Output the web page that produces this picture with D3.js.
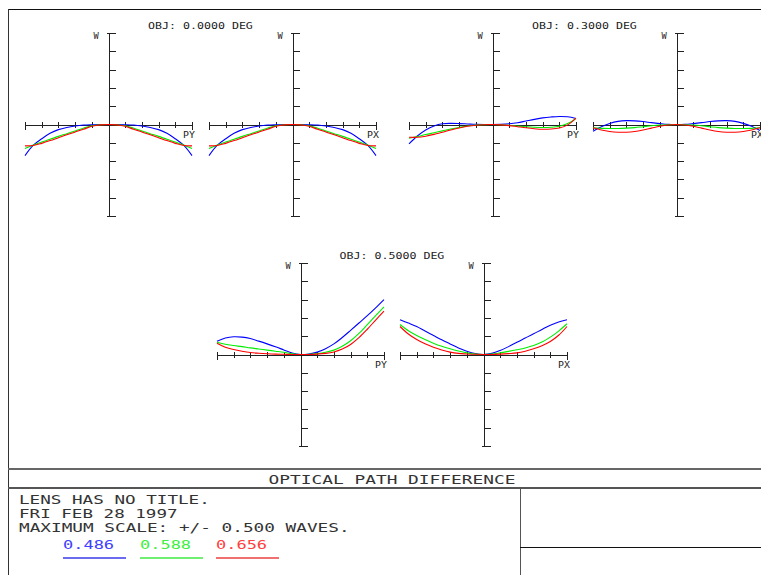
<!DOCTYPE html>
<html>
<head>
  <title>Optical path difference</title>
  <style>
    body { margin: 0; background: #fff; }
    text { font-family: "DejaVu Sans Mono", monospace; }
  </style>
</head>
<body>
  <svg width="761" height="575"></svg>

  <script src="https://d3js.org/d3.v7.min.js"></script>
  <script>

  // pupil coordinate where each OPD sample was read
  var pupil = [-1, -0.9, -0.8, -0.7, -0.6, -0.5, -0.4, -0.3, -0.2, -0.1, 0,
               0.1, 0.2, 0.3, 0.4, 0.5, 0.6, 0.7, 0.8, 0.9, 1];

  var wavelengths = ["0.486", "0.588", "0.656"];
  var fieldLabels = ["OBJ: 0.0000 DEG", "OBJ: 0.3000 DEG", "OBJ: 0.5000 DEG"];
  var pupilTicks = [-1, -0.8, -0.6, -0.4, -0.2, 0, 0.2, 0.4, 0.6, 0.8, 1];
  var waveTicks = [-0.5, -0.4, -0.3, -0.2, -0.1, 0, 0.1, 0.2, 0.3, 0.4, 0.5];

  // OPD in waves, field 0.0 deg
  var f0_py_486 = [-0.170, -0.113, -0.078, -0.048, -0.028, -0.016, -0.008, -0.003, -0.001, 0, 0, 0, -0.001, -0.003, -0.008, -0.016, -0.028, -0.048, -0.078, -0.113, -0.170];
  var f0_py_588 = [-0.131, -0.112, -0.096, -0.081, -0.065, -0.050, -0.035, -0.020, -0.007, -0.001, 0, -0.001, -0.007, -0.020, -0.035, -0.050, -0.065, -0.081, -0.096, -0.112, -0.131];
  var f0_py_656 = [-0.117, -0.115, -0.103, -0.088, -0.072, -0.056, -0.041, -0.026, -0.010, -0.002, 0, -0.002, -0.010, -0.026, -0.041, -0.056, -0.072, -0.088, -0.103, -0.115, -0.117];
  var f0_px_486 = [-0.170, -0.113, -0.078, -0.048, -0.028, -0.016, -0.008, -0.003, -0.001, 0, 0, 0, -0.001, -0.003, -0.008, -0.016, -0.028, -0.048, -0.078, -0.113, -0.170];
  var f0_px_588 = [-0.131, -0.112, -0.096, -0.081, -0.065, -0.050, -0.035, -0.020, -0.007, -0.001, 0, -0.001, -0.007, -0.020, -0.035, -0.050, -0.065, -0.081, -0.096, -0.112, -0.131];
  var f0_px_656 = [-0.117, -0.115, -0.103, -0.088, -0.072, -0.056, -0.041, -0.026, -0.010, -0.002, 0, -0.002, -0.010, -0.026, -0.041, -0.056, -0.072, -0.088, -0.103, -0.115, -0.117];

  // field 0.3 deg
  var f3_py_486 = [-0.106, -0.063, -0.030, -0.008, 0.004, 0.006, 0.005, 0.003, 0.001, 0, 0, 0.001, 0.004, 0.010, 0.019, 0.028, 0.036, 0.041, 0.044, 0.042, 0.033];
  var f3_py_588 = [-0.075, -0.066, -0.055, -0.045, -0.035, -0.025, -0.016, -0.008, -0.003, -0.001, 0, -0.001, -0.004, -0.008, -0.012, -0.015, -0.016, -0.015, -0.010, 0.005, 0.033];
  var f3_py_656 = [-0.070, -0.070, -0.064, -0.054, -0.042, -0.030, -0.019, -0.010, -0.004, -0.001, 0, -0.002, -0.006, -0.012, -0.018, -0.023, -0.026, -0.025, -0.019, -0.002, 0.035];
  var f3_px_486 = [-0.037, -0.012, 0.006, 0.017, 0.021, 0.020, 0.016, 0.010, 0.005, 0.001, 0, 0.001, 0.005, 0.010, 0.016, 0.020, 0.021, 0.017, 0.006, -0.010, -0.033];
  var f3_px_588 = [-0.018, -0.021, -0.022, -0.022, -0.020, -0.017, -0.012, -0.007, -0.003, -0.001, 0, -0.001, -0.003, -0.007, -0.012, -0.017, -0.020, -0.022, -0.022, -0.021, -0.018];
  var f3_px_656 = [-0.018, -0.030, -0.038, -0.042, -0.042, -0.038, -0.030, -0.020, -0.010, -0.003, 0, -0.003, -0.010, -0.020, -0.030, -0.038, -0.042, -0.042, -0.038, -0.030, -0.018];

  // field 0.5 deg
  var f5_py_486 = [0.073, 0.090, 0.097, 0.095, 0.087, 0.073, 0.058, 0.042, 0.025, 0.008, 0, 0.003, 0.013, 0.032, 0.058, 0.093, 0.132, 0.172, 0.212, 0.255, 0.300];
  var f5_py_588 = [0.067, 0.056, 0.049, 0.043, 0.036, 0.030, 0.024, 0.018, 0.012, 0.004, 0, 0.001, 0.005, 0.012, 0.024, 0.045, 0.075, 0.115, 0.163, 0.212, 0.260];
  var f5_py_656 = [0.062, 0.040, 0.027, 0.018, 0.011, 0.007, 0.004, 0.002, 0.001, 0, 0, 0, 0.002, 0.006, 0.014, 0.030, 0.055, 0.092, 0.138, 0.188, 0.237];
  var f5_px_486 = [0.190, 0.172, 0.153, 0.128, 0.104, 0.080, 0.058, 0.036, 0.018, 0.005, 0, 0.006, 0.022, 0.043, 0.067, 0.090, 0.113, 0.137, 0.160, 0.178, 0.190];
  var f5_px_588 = [0.164, 0.130, 0.104, 0.082, 0.062, 0.045, 0.031, 0.019, 0.009, 0.002, 0, 0.002, 0.009, 0.017, 0.026, 0.036, 0.049, 0.068, 0.095, 0.128, 0.168];
  var f5_px_656 = [0.153, 0.112, 0.082, 0.059, 0.040, 0.025, 0.013, 0.006, 0.003, 0.001, 0, 0, 0.002, 0.005, 0.009, 0.018, 0.031, 0.048, 0.071, 0.105, 0.153];

  var lineColors = ["#0000ff", "#00ee00", "#ff0000"];
  var legendColors = ["#4040ff", "#40f040", "#ff4040"];
  var underColors = ["#6b6bf0", "#70f070", "#f07070"];

  // layout of the six fans: centre of the axes cross
  var panels = [
    { cx: 108.5, cy: 124.5, fan: "PY", series: [f0_py_486, f0_py_588, f0_py_656] },
    { cx: 292.5, cy: 124.5, fan: "PX", series: [f0_px_486, f0_px_588, f0_px_656] },
    { cx: 492.5, cy: 124.5, fan: "PY", series: [f3_py_486, f3_py_588, f3_py_656] },
    { cx: 676.5, cy: 124.5, fan: "PX", series: [f3_px_486, f3_px_588, f3_px_656] },
    { cx: 300.5, cy: 354.5, fan: "PY", series: [f5_py_486, f5_py_588, f5_py_656] },
    { cx: 483.5, cy: 354.5, fan: "PX", series: [f5_px_486, f5_px_588, f5_px_656] }
  ];
  var titles = [
    { label: fieldLabels[0], x: 200.5, y: 29 },
    { label: fieldLabels[1], x: 584.5, y: 29 },
    { label: fieldLabels[2], x: 392, y: 259 }
  ];

  var halfW = 83.5, halfH = 91.5;
  var axisColor = "#222";
  var textColor = "#333";

  var svg = d3.select("svg");
  svg.append("rect").attr("width", 761).attr("height", 575).attr("fill", "#fff");

  // stretched monospace text, roughly like the plotter stroke font
  function label(g, str, x, y, size, advance, anchor, color) {
    return g.append("text")
        .attr("x", x).attr("y", y)
        .attr("font-size", size)
        .attr("text-anchor", anchor || "start")
        .attr("fill", color || textColor)
        .attr("textLength", str.length * advance - advance * 0.25)
        .attr("lengthAdjust", "spacingAndGlyphs")
        .text(str);
  }

  panels.forEach(function(p) {
    var x = d3.scaleLinear().domain([-1, 1]).range([p.cx - halfW, p.cx + halfW]);
    var y = d3.scaleLinear().domain([-0.5, 0.5]).range([p.cy + halfH, p.cy - halfH]);
    var g = svg.append("g");

    var ax = g.append("g").attr("stroke", axisColor).attr("stroke-width", 1)
        .attr("shape-rendering", "crispEdges");
    var y0 = Math.round(y(0)) + 0.5, x0 = Math.round(x(0)) + 0.5;

    ax.append("line").attr("x1", x(-1)).attr("x2", x(1)).attr("y1", y0).attr("y2", y0);
    ax.append("line").attr("x1", x0).attr("x2", x0).attr("y1", y(0.5)).attr("y2", y(-0.5));

    ax.selectAll(".xt").data(pupilTicks).enter().append("line")
        .attr("x1", function(d) { return Math.round(x(d)) + 0.5; })
        .attr("x2", function(d) { return Math.round(x(d)) + 0.5; })
        .attr("y1", function(d) { return y0 - 4; })
        .attr("y2", function(d) { return Math.abs(d) === 1 ? y0 + 4 : y0 + 2; });

    ax.selectAll(".yt").data(waveTicks).enter().append("line")
        .attr("y1", function(d) { return Math.round(y(d)) + 0.5; })
        .attr("y2", function(d) { return Math.round(y(d)) + 0.5; })
        .attr("x1", function(d) { return Math.abs(d) === 0.5 ? x0 - 3 : x0; })
        .attr("x2", x0 + 6);

    label(g, "W", x0 - 16, y(0.5) + 6, 8, 7, "start", "#222");
    label(g, p.fan, x(1) + 3, y0 + 12.5, 8.5, 6.8, "end", "#222");

    var line = d3.line()
        .x(function(d, i) { return x(pupil[i]); })
        .y(function(d) { return y(d); })
        .curve(d3.curveCatmullRom.alpha(0.5));

    p.series.forEach(function(s, i) {
      g.append("path")
          .attr("d", line(s))
          .attr("fill", "none")
          .attr("stroke", lineColors[i])
          .attr("stroke-width", 1.1);
    });
  });

  titles.forEach(function(t) {
    label(svg, t.label, t.x, t.y, 8.5, 7.1, "middle", "#222");
  });

  // frame and title block
  var frame = svg.append("g").attr("shape-rendering", "crispEdges");
  frame.append("line").attr("x1", 8).attr("x2", 761).attr("y1", 9.5).attr("y2", 9.5).attr("stroke", "#111");
  frame.append("line").attr("x1", 8.5).attr("x2", 8.5).attr("y1", 9).attr("y2", 575).attr("stroke", "#333");
  frame.append("line").attr("x1", 8).attr("x2", 761).attr("y1", 469).attr("y2", 469).attr("stroke", "#666").attr("stroke-width", 2);
  frame.append("line").attr("x1", 8).attr("x2", 761).attr("y1", 488).attr("y2", 488).attr("stroke", "#555").attr("stroke-width", 2);
  frame.append("line").attr("x1", 520.5).attr("x2", 520.5).attr("y1", 488).attr("y2", 575).attr("stroke", "#555");
  frame.append("line").attr("x1", 520).attr("x2", 761).attr("y1", 547.5).attr("y2", 547.5).attr("stroke", "#111");

  label(svg, "OPTICAL PATH DIFFERENCE", 392, 483.5, 12.5, 10.85, "middle");
  label(svg, "LENS HAS NO TITLE.", 19, 503.5, 12, 10.75);
  label(svg, "FRI FEB 28 1997", 19, 517.5, 12, 10.75);
  label(svg, "MAXIMUM SCALE: +/- 0.500 WAVES.", 19, 531.5, 12, 10.75);

  var legendX = [63, 140, 216];
  wavelengths.forEach(function(w, i) {
    label(svg, w, legendX[i], 549, 12, 10.75, "start", legendColors[i]);
    svg.append("line")
        .attr("x1", legendX[i]).attr("x2", legendX[i] + 63)
        .attr("y1", 558).attr("y2", 558)
        .attr("stroke", underColors[i]).attr("stroke-width", 2);
  });

  </script>
</body>
</html>
